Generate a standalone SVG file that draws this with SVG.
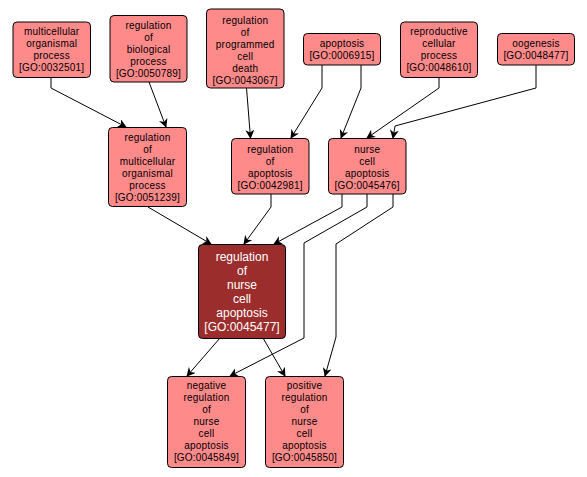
<svg xmlns="http://www.w3.org/2000/svg" width="587" height="477" viewBox="0 0 587 477">
<style>
.n rect{fill:#ff8a8a;stroke:#000;stroke-width:1}
.n text{font-family:"Liberation Sans",Arial,sans-serif;font-size:10px;letter-spacing:0.2px;fill:#000;text-anchor:middle}
.d rect{fill:#9b2d2d}
.d text{font-size:12px;letter-spacing:0;fill:#fff}
.e path{fill:none;stroke:#000;stroke-width:1;marker-end:url(#a)}
</style>
<defs>
<marker id="a" viewBox="0 0 10 10" refX="9" refY="5" markerWidth="9" markerHeight="9" markerUnits="userSpaceOnUse" orient="auto">
<path d="M0,0 L10,5 L0,10 L3,5 Z" fill="#000"/>
</marker>
</defs>
<rect width="587" height="477" fill="#fff"/>
<g class="e" id="edges">
<path d="M51,77 V88 L126,127"/>
<path d="M149,82 L166,127"/>
<path d="M246.5,88 L250.5,138"/>
<path d="M322,65 V88 L291,138"/>
<path d="M361,65 V88 L341,138"/>
<path d="M439,77 V88 L367,138"/>
<path d="M536,65 V88 L395,126 L393,138"/>
<path d="M148,207 L211,244"/>
<path d="M271,194 V207 L244,244"/>
<path d="M342,194 V207 L274,244"/>
<path d="M367,194 V207 L304,243 V338 L230,376"/>
<path d="M393,194 V207 L336,244 V337 L325,376"/>
<path d="M220,338 L187,376"/>
<path d="M263,338 L285,376"/>
</g>
<g class="n" id="GO0032501"><rect x="13" y="22" width="77.5" height="55.5" rx="4"/>
<text x="51.7" y="35">multicellular</text><text x="51.7" y="47">organismal</text><text x="51.7" y="59">process</text><text x="51.7" y="71">[GO:0032501]</text></g>
<g class="n" id="GO0050789"><rect x="110" y="15.5" width="77" height="66.5" rx="4"/>
<text x="148.5" y="29">regulation</text><text x="148.5" y="41">of</text><text x="148.5" y="53">biological</text><text x="148.5" y="65">process</text><text x="148.5" y="77">[GO:0050789]</text></g>
<g class="n" id="GO0043067"><rect x="206.5" y="9" width="77.5" height="79" rx="4"/>
<text x="245.2" y="24">regulation</text><text x="245.2" y="36">of</text><text x="245.2" y="48">programmed</text><text x="245.2" y="60">cell</text><text x="245.2" y="72">death</text><text x="245.2" y="84">[GO:0043067]</text></g>
<g class="n" id="GO0006915"><rect x="303.5" y="33.5" width="77" height="31.5" rx="4"/>
<text x="342" y="47">apoptosis</text><text x="342" y="59">[GO:0006915]</text></g>
<g class="n" id="GO0048610"><rect x="400.5" y="22" width="77" height="55.5" rx="4"/>
<text x="439" y="35">reproductive</text><text x="439" y="47">cellular</text><text x="439" y="59">process</text><text x="439" y="71">[GO:0048610]</text></g>
<g class="n" id="GO0048477"><rect x="497.5" y="33.5" width="77" height="31.5" rx="4"/>
<text x="536" y="47">oogenesis</text><text x="536" y="59">[GO:0048477]</text></g>
<g class="n" id="GO0051239"><rect x="108.5" y="127.5" width="78" height="79" rx="4"/>
<text x="147.5" y="141">regulation</text><text x="147.5" y="153">of</text><text x="147.5" y="165">multicellular</text><text x="147.5" y="177">organismal</text><text x="147.5" y="189">process</text><text x="147.5" y="201">[GO:0051239]</text></g>
<g class="n" id="GO0042981"><rect x="231.5" y="138.5" width="77.5" height="55.5" rx="4"/>
<text x="270.2" y="153">regulation</text><text x="270.2" y="165">of</text><text x="270.2" y="177">apoptosis</text><text x="270.2" y="189">[GO:0042981]</text></g>
<g class="n" id="GO0045476"><rect x="328.5" y="138.5" width="77.5" height="55.5" rx="4"/>
<text x="367.2" y="153">nurse</text><text x="367.2" y="165">cell</text><text x="367.2" y="177">apoptosis</text><text x="367.2" y="189">[GO:0045476]</text></g>
<g class="n d" id="GO0045477"><rect x="198.5" y="244.5" width="87" height="94" rx="4"/>
<text x="242" y="261">regulation</text><text x="242" y="275">of</text><text x="242" y="289">nurse</text><text x="242" y="303">cell</text><text x="242" y="317">apoptosis</text><text x="242" y="331">[GO:0045477]</text></g>
<g class="n" id="GO0045849"><rect x="167.5" y="376.5" width="78" height="91" rx="4"/>
<text x="206.5" y="389">negative</text><text x="206.5" y="401">regulation</text><text x="206.5" y="413">of</text><text x="206.5" y="425">nurse</text><text x="206.5" y="437">cell</text><text x="206.5" y="449">apoptosis</text><text x="206.5" y="461">[GO:0045849]</text></g>
<g class="n" id="GO0045850"><rect x="265.5" y="376.5" width="78" height="91" rx="4"/>
<text x="304.5" y="389">positive</text><text x="304.5" y="401">regulation</text><text x="304.5" y="413">of</text><text x="304.5" y="425">nurse</text><text x="304.5" y="437">cell</text><text x="304.5" y="449">apoptosis</text><text x="304.5" y="461">[GO:0045850]</text></g>
</svg>
